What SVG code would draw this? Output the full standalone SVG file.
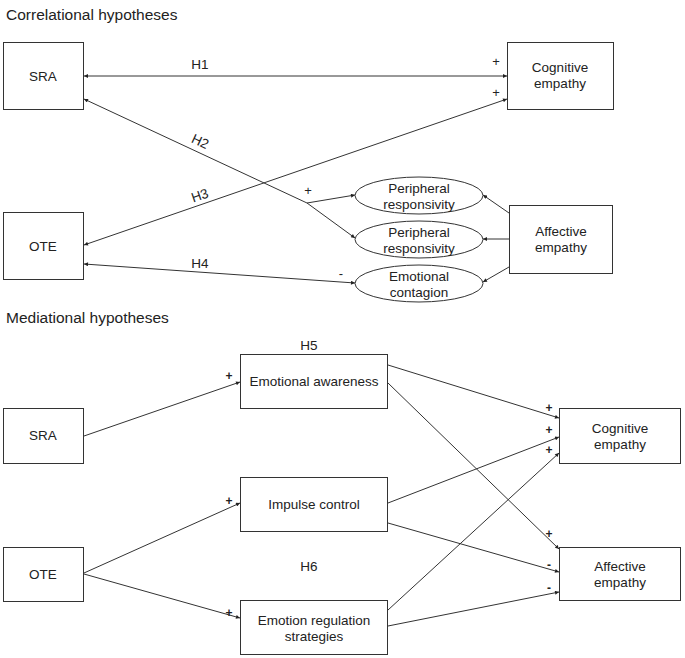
<svg xmlns="http://www.w3.org/2000/svg" width="685" height="658" viewBox="0 0 685 658">
<defs>
<marker id="ah" viewBox="0 0 10 10" refX="10" refY="5" markerWidth="5" markerHeight="4" orient="auto-start-reverse" markerUnits="userSpaceOnUse">
<path d="M0,0 L10,5 L0,10 z" fill="#222"/>
</marker>
<style>
.t{font-family:"Liberation Sans",Arial,Helvetica,sans-serif;font-size:13.5px;fill:#222}
.h{font-family:"Liberation Sans",Arial,Helvetica,sans-serif;font-size:15.5px;fill:#222}
.b{fill:#fff;stroke:#333;stroke-width:1}
.c{fill:none;stroke:#333;stroke-width:1}
.s{font-family:"Liberation Sans",Arial,Helvetica,sans-serif;font-size:13px;fill:#222}
.sb{font-family:"Liberation Sans",Arial,Helvetica,sans-serif;font-size:12px;font-weight:bold;fill:#222}
</style>
</defs>
<rect width="685" height="658" fill="#fff"/>
<text class="h" x="6" y="20">Correlational hypotheses</text>
<text class="h" x="6" y="323">Mediational hypotheses</text>

<g id="connectors">
<line class="c" x1="84" y1="76" x2="507" y2="76" marker-start="url(#ah)" marker-end="url(#ah)"/>
<polyline class="c" points="84,99 307,203 355,238" marker-start="url(#ah)" marker-end="url(#ah)"/>
<line class="c" x1="307" y1="203" x2="355" y2="195" marker-end="url(#ah)"/>
<line class="c" x1="507" y1="99" x2="84" y2="245" marker-start="url(#ah)" marker-end="url(#ah)"/>
<line class="c" x1="84" y1="264" x2="355" y2="283" marker-start="url(#ah)" marker-end="url(#ah)"/>
<line class="c" x1="509" y1="213" x2="483" y2="195" marker-end="url(#ah)"/>
<line class="c" x1="509" y1="239" x2="483" y2="239" marker-end="url(#ah)"/>
<line class="c" x1="509" y1="267" x2="483" y2="282" marker-end="url(#ah)"/>
<line class="c" x1="84" y1="436" x2="240" y2="382" marker-end="url(#ah)"/>
<line class="c" x1="84" y1="573" x2="240" y2="503" marker-end="url(#ah)"/>
<line class="c" x1="84" y1="574" x2="240" y2="618" marker-end="url(#ah)"/>
<line class="c" x1="388" y1="365" x2="559" y2="418" marker-end="url(#ah)"/>
<line class="c" x1="388" y1="383" x2="559" y2="549" marker-end="url(#ah)"/>
<line class="c" x1="388" y1="503" x2="559" y2="437" marker-end="url(#ah)"/>
<line class="c" x1="388" y1="523" x2="559" y2="572" marker-end="url(#ah)"/>
<line class="c" x1="388" y1="610" x2="559" y2="453" marker-end="url(#ah)"/>
<line class="c" x1="388" y1="626" x2="559" y2="592" marker-end="url(#ah)"/>
</g>

<g id="labels">
<text class="t" x="200" y="69" text-anchor="middle">H1</text>
<text class="t" x="200" y="146" text-anchor="middle" transform="rotate(25 200 142)">H2</text>
<text class="t" x="200" y="200" text-anchor="middle" transform="rotate(-19 200 196)">H3</text>
<text class="t" x="200" y="268" text-anchor="middle">H4</text>
<text class="s" x="496" y="66" text-anchor="middle">+</text>
<text class="s" x="496" y="97" text-anchor="middle">+</text>
<text class="s" x="308" y="195" text-anchor="middle">+</text>
<text class="s" x="341" y="278" text-anchor="middle">-</text>
<text class="t" x="309" y="350" text-anchor="middle">H5</text>
<text class="t" x="309" y="571" text-anchor="middle">H6</text>
<text class="sb" x="229" y="380" text-anchor="middle">+</text>
<text class="sb" x="229" y="505" text-anchor="middle">+</text>
<text class="sb" x="229" y="617" text-anchor="middle">+</text>
<text class="sb" x="549" y="412" text-anchor="middle">+</text>
<text class="sb" x="549" y="434" text-anchor="middle">+</text>
<text class="sb" x="549" y="454" text-anchor="middle">+</text>
<text class="sb" x="549" y="538" text-anchor="middle">+</text>
<text class="sb" x="549" y="569" text-anchor="middle">-</text>
<text class="sb" x="549" y="592" text-anchor="middle">-</text>
</g>

<g id="sra1"><rect class="b" x="3.5" y="42.5" width="80" height="67"/><text class="t" x="43" y="81" text-anchor="middle">SRA</text></g>
<g id="ote1"><rect class="b" x="3.5" y="212.5" width="80" height="67"/><text class="t" x="43" y="251" text-anchor="middle">OTE</text></g>
<g id="cog1"><rect class="b" x="507.5" y="42.5" width="106" height="67"/><text class="t" x="560" y="72" text-anchor="middle">Cognitive</text><text class="t" x="560" y="88" text-anchor="middle">empathy</text></g>
<g id="aff1"><rect class="b" x="509.5" y="205.5" width="103" height="68"/><text class="t" x="561" y="236" text-anchor="middle">Affective</text><text class="t" x="561" y="252" text-anchor="middle">empathy</text></g>
<g id="per1"><ellipse class="b" cx="419" cy="195.5" rx="64" ry="18.5"/><text class="t" x="419" y="193" text-anchor="middle">Peripheral</text><text class="t" x="419" y="209" text-anchor="middle">responsivity</text></g>
<g id="per2"><ellipse class="b" cx="419" cy="239.5" rx="64" ry="18.5"/><text class="t" x="419" y="237" text-anchor="middle">Peripheral</text><text class="t" x="419" y="253" text-anchor="middle">responsivity</text></g>
<g id="emc"><ellipse class="b" cx="419" cy="283.5" rx="64" ry="18.5"/><text class="t" x="419" y="281" text-anchor="middle">Emotional</text><text class="t" x="419" y="297" text-anchor="middle">contagion</text></g>

<g id="sra2"><rect class="b" x="3.5" y="408.5" width="80" height="55"/><text class="t" x="43" y="440" text-anchor="middle">SRA</text></g>
<g id="ote2"><rect class="b" x="3.5" y="547.5" width="80" height="54"/><text class="t" x="43" y="579" text-anchor="middle">OTE</text></g>
<g id="ea"><rect class="b" x="240.5" y="354.5" width="147" height="54"/><text class="t" x="314" y="386" text-anchor="middle">Emotional awareness</text></g>
<g id="ic"><rect class="b" x="240.5" y="477.5" width="147" height="54"/><text class="t" x="314" y="509" text-anchor="middle">Impulse control</text></g>
<g id="ers"><rect class="b" x="240.5" y="600.5" width="147" height="54"/><text class="t" x="314" y="625" text-anchor="middle">Emotion regulation</text><text class="t" x="314" y="641" text-anchor="middle">strategies</text></g>
<g id="cog2"><rect class="b" x="559.5" y="408.5" width="121" height="55"/><text class="t" x="620" y="433" text-anchor="middle">Cognitive</text><text class="t" x="620" y="449" text-anchor="middle">empathy</text></g>
<g id="aff2"><rect class="b" x="559.5" y="547.5" width="121" height="53"/><text class="t" x="620" y="571" text-anchor="middle">Affective</text><text class="t" x="620" y="587" text-anchor="middle">empathy</text></g>
</svg>
